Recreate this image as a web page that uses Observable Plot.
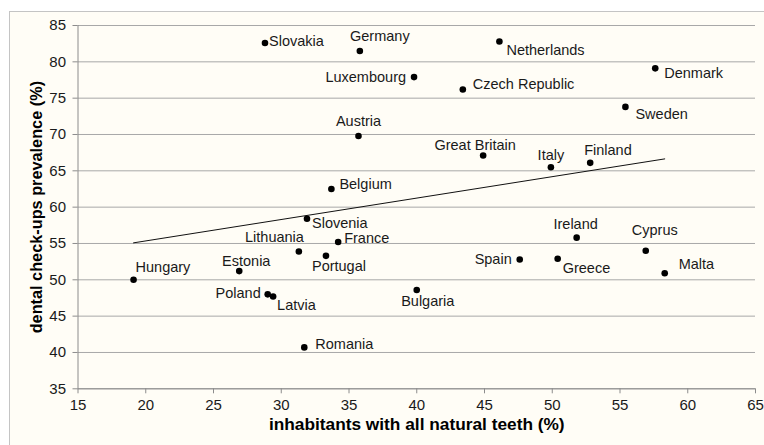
<!DOCTYPE html>
<html><head><meta charset="utf-8">
<script src="https://cdn.jsdelivr.net/npm/d3@7"></script>
<script src="https://cdn.jsdelivr.net/npm/@observablehq/plot@0.6"></script>
<style>
body{margin:0;background:#fff;}
#wrap{position:relative;width:764px;height:445px;overflow:hidden;}
#frame{position:absolute;left:9px;top:11px;width:800px;height:500px;border:1px solid #c4c4c4;background:#fffdf6;}
#chart{position:absolute;left:0;top:0;}
</style></head><body>
<div id="wrap"><div id="frame"></div><div id="chart"></div></div>
<script>
const countries = ["Slovakia","Germany","Netherlands","Luxembourg","Czech Republic","Denmark","Sweden","Austria","Great Britain","Italy","Finland","Belgium","Slovenia","Lithuania","France","Portugal","Hungary","Estonia","Poland","Latvia","Romania","Ireland","Cyprus","Spain","Greece","Malta","Bulgaria"];
const naturalTeeth = [28.8,35.8,46.1,39.8,43.4,57.6,55.4,35.7,44.9,49.9,52.8,33.7,31.9,31.3,34.2,33.3,19.1,26.9,29.0,29.4,31.7,51.8,56.9,47.6,50.4,58.3,40.0];
const checkups = [82.6,81.5,82.8,77.9,76.2,79.1,73.8,69.8,67.1,65.5,66.1,62.5,58.4,53.9,55.2,53.3,50.0,51.2,48.0,47.7,40.7,55.8,54.0,52.8,52.9,50.9,48.6];
const xTicks = [15,20,25,30,35,40,45,50,55,60,65];
const yTicks = [35,40,45,50,55,60,65,70,75,80,85];
const xTitle = "inhabitants with all natural teeth (%)";
const yTitle = "dental check-ups prevalence (%)";

// label nudges (pixel offsets from each dot, text anchor)
const labelNudge = {
  "Slovakia":[4,-2,"start"], "Germany":[20,-15,"middle"], "Netherlands":[7,9,"start"],
  "Luxembourg":[-8,0,"end"], "Czech Republic":[10,-5,"start"], "Denmark":[9,5,"start"],
  "Sweden":[10,7,"start"], "Austria":[0,-15,"middle"], "Great Britain":[-8,-10,"middle"],
  "Italy":[0,-12,"middle"], "Finland":[-6,-12,"start"], "Belgium":[8,-5,"start"],
  "Slovenia":[5,5,"start"], "Lithuania":[5,-14,"end"], "France":[6,-4,"start"],
  "Portugal":[-14,11,"start"], "Hungary":[2,-12,"start"], "Estonia":[7,-10,"middle"],
  "Poland":[-7,-1,"end"], "Latvia":[4,9,"start"], "Romania":[11,-3,"start"],
  "Ireland":[-1,-13,"middle"], "Cyprus":[9,-20,"middle"], "Spain":[-8,0,"end"],
  "Greece":[5,10,"start"], "Malta":[14,-9,"start"], "Bulgaria":[11,11,"middle"]
};

const data = countries.map((c, i) => ({country: c, x: naturalTeeth[i], y: checkups[i]}));

const labelMarks = data.map(d => {
  const [dx, dy, anchor] = labelNudge[d.country];
  return Plot.text([d], {x: "x", y: "y", text: "country", dx, dy, textAnchor: anchor, fontSize: 14.5, fill: "#1a1a1a"});
});

const chart = Plot.plot({
  width: 764, height: 445,
  marginLeft: 77.5, marginRight: 9, marginTop: 25, marginBottom: 56.7,
  style: {background: "transparent", fontFamily: "'Liberation Sans', Arial, sans-serif"},
  x: {domain: [15, 65]},
  y: {domain: [35, 85]},
  marks: [
    Plot.gridY(yTicks, {stroke: "#a8a8a8", strokeOpacity: 1}),
    Plot.ruleX([15], {stroke: "#8c8c8c"}),
    Plot.ruleY([35], {stroke: "#8c8c8c"}),
    Plot.axisY({ticks: yTicks, tickSize: 5, tickPadding: 7, fontSize: 15, label: null, stroke: "#8c8c8c", fill: "#1a1a1a"}),
    Plot.axisX({ticks: xTicks, tickSize: 5, tickPadding: 6, fontSize: 15, label: null, stroke: "#8c8c8c", fill: "#1a1a1a"}),
    Plot.linearRegressionY(data, {x: "x", y: "y", ci: 0, stroke: "#111", strokeWidth: 1}),
    Plot.dot(data, {x: "x", y: "y", r: 3.3, fill: "#000", stroke: "none"}),
    ...labelMarks,
    Plot.text([xTitle], {frameAnchor: "bottom", textAnchor: "middle", dy: 41.5, text: d => d, fontSize: 17.3, fontWeight: "bold", fill: "#000"}),
    Plot.text([yTitle], {frameAnchor: "left", textAnchor: "middle", dx: -41.5, rotate: -90, text: d => d, fontSize: 16.3, fontWeight: "bold", fill: "#000"})
  ]
});
document.getElementById("chart").appendChild(chart);
</script>
</body></html>
